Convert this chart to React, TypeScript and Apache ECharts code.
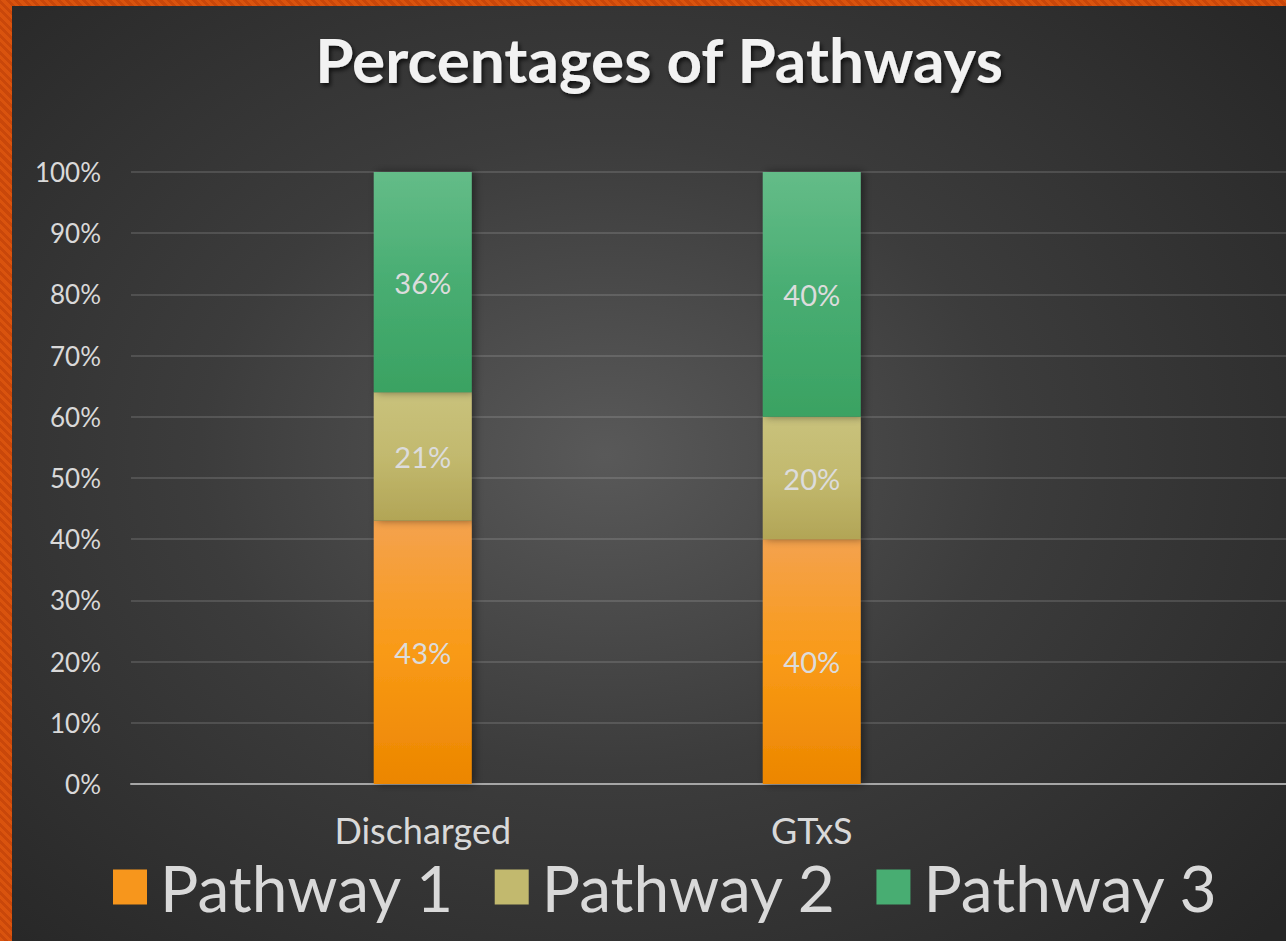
import React, { useEffect, useRef } from "react";
import * as echarts from "echarts";

const categories = ["Discharged", "GTxS"];
const seriesNames = ["Pathway 1", "Pathway 2", "Pathway 3"];
const pathway1 = [43, 40];
const pathway2 = [21, 20];
const pathway3 = [36, 40];
const yTicks = [0, 10, 20, 30, 40, 50, 60, 70, 80, 90, 100];

const FONT = "Lato, 'Open Sans', sans-serif";

function grad(top: string, mid: string, bottom: string) {
  return new echarts.graphic.LinearGradient(0, 0, 0, 1, [
    { offset: 0, color: top },
    { offset: 0.5, color: mid },
    { offset: 1, color: bottom },
  ]);
}

export default function App() {
  const ref = useRef<HTMLDivElement>(null);
  useEffect(() => {
    if (!ref.current) return;
    const chart = echarts.init(ref.current, null, { renderer: "svg" });
    // category slots: each category sits in every other slot (original layout spacing)
    const axisData: string[] = ["", categories[0], "", categories[1], "", ""];
    const place = (vals: number[]) =>
      axisData.map((c) => {
        const i = categories.indexOf(c);
        return c && i >= 0 ? vals[i] : null;
      });
    const colors = [
      grad("#f4a24e", "#f99a16", "#ec8600"),
      grad("#c9c27c", "#c2b96e", "#b2a556"),
      grad("#64bc88", "#48ad72", "#3aa262"),
    ];
    const legendColors = ["#f7961c", "#c2b96e", "#48ad72"];
    const vals = [pathway1, pathway2, pathway3];
    const series = seriesNames.map((name, k) => ({
      name,
      type: "bar",
      stack: "total",
      barWidth: 98,
      data: place(vals[k]),
      itemStyle: {
        color: colors[k],
        shadowColor: "rgba(0,0,0,0.45)",
        shadowBlur: 8,
        shadowOffsetX: 3,
        shadowOffsetY: 0,
      },
      label: {
        show: true,
        position: "inside",
        formatter: (p: any) => (p.value == null ? "" : p.value + "%"),
        color: "#dcdcdc",
        fontFamily: FONT,
        fontSize: 29,
      },
    }));
    chart.setOption({
      animation: false,
      backgroundColor: "transparent",
      title: {
        text: "Percentages of Pathways",
        left: 642,
        top: 17,
        textAlign: "center",
        textStyle: {
          color: "#f2f2f2",
          fontFamily: FONT,
          fontWeight: "bold",
          fontSize: 62,
          textShadowColor: "rgba(0,0,0,0.7)",
          textShadowBlur: 4,
          textShadowOffsetX: 2,
          textShadowOffsetY: 3,
        },
      },
      legend: {
        data: seriesNames.map((n, k) => ({ name: n, itemStyle: { color: legendColors[k] } })),
        left: 101,
        top: 849,
        padding: 0,
        itemWidth: 34,
        itemHeight: 35,
        itemGap: 40,
        icon: "rect",
        textStyle: {
          color: "#d9d9d9",
          fontFamily: FONT,
          fontSize: 64,
          lineHeight: 44,
          padding: [0, 0, 0, 8],
        },
      },
      grid: { left: 119, top: 166, width: 1167, height: 612 },
      xAxis: {
        type: "category",
        data: axisData,
        axisLine: { lineStyle: { color: "#a6a6a6", width: 2 } },
        axisTick: { show: false },
        axisLabel: {
          color: "#d9d9d9",
          fontFamily: FONT,
          fontSize: 36,
          lineHeight: 32,
          margin: 30,
          interval: 0,
        },
      },
      yAxis: {
        type: "value",
        min: 0,
        max: 100,
        interval: 10,
        axisLine: { show: false },
        axisTick: { show: false },
        axisLabel: {
          color: "#d9d9d9",
          fontFamily: FONT,
          fontSize: 26,
          margin: 30,
          formatter: (v: number) => (yTicks.includes(v) ? v + "%" : ""),
        },
        splitLine: { lineStyle: { color: "rgba(255,255,255,0.13)", width: 2 } },
      },
      series,
    });
    return () => chart.dispose();
  }, []);
  return (
    <div
      style={{
        position: "fixed",
        left: 0,
        top: 0,
        width: 1286,
        height: 941,
        background:
          "repeating-linear-gradient(45deg, #d9530e 0px, #d9530e 3px, #c9470a 3px, #c9470a 6px)",
        overflow: "hidden",
      }}
    >
      <div
        ref={ref}
        style={{
          position: "absolute",
          left: 12,
          top: 6,
          width: 1290,
          height: 935,
          background:
            "radial-gradient(ellipse 70% 75% at 46% 48%, #595959 0%, #3c3c3c 45%, #262626 100%)",
        }}
      />
    </div>
  );
}
